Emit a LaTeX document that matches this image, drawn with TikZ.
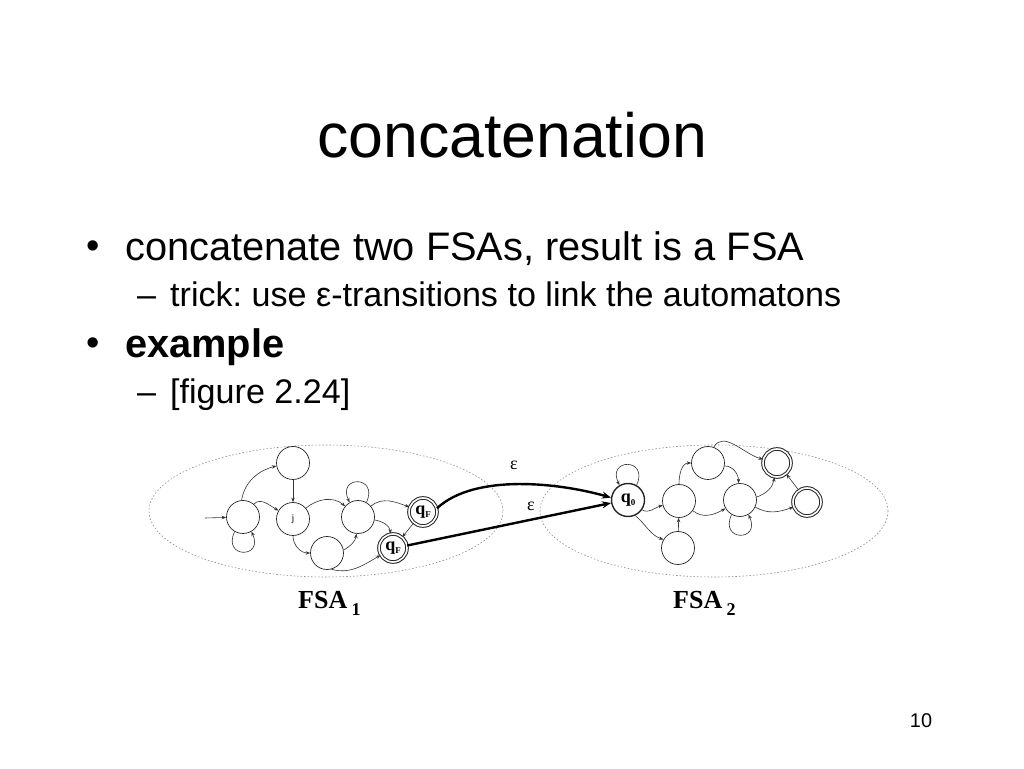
\documentclass[tikz,border=0pt]{standalone}
\usepackage{fontspec}
\setmainfont{Liberation Sans}
\newfontfamily\seriffont{Liberation Serif}
\usetikzlibrary{arrows.meta}
\frenchspacing
\begin{document}
\begin{tikzpicture}[x=1pt,y=1pt,
  st/.style={circle,draw=black!85,line width=0.7pt,minimum size=33pt,inner sep=0pt},
  fin/.style={circle,draw=black!85,line width=1pt,double,double distance=1.6pt,minimum size=28pt,inner sep=0pt},
  tr/.style={draw=black!80,line width=0.6pt,-{Stealth[length=4.5pt,width=3.5pt]}},
  epsarrow/.style={draw=black,line width=2.4pt,-{Stealth[length=9pt,width=7pt]}},
  region/.style={draw=black!45,line width=0.6pt,dash pattern=on 1.5pt off 2pt},
  txt/.style={anchor=base west,inner sep=0pt}]
\useasboundingbox (0,0) rectangle (1024,768);
\fill[white] (0,0) rectangle (1024,768);

% ---- text ----
\node[anchor=base,inner sep=0pt] (title) at (512,610) {\fontsize{62.6}{70}\selectfont concatenation};
\node[txt] (b1) at (86,509) {\fontsize{38}{44}\selectfont •};
\node[txt] (t1) at (125,507) {\fontsize{39.8}{44}\selectfont concatenate two FSAs, result is a FSA};
\node[txt] (d1) at (137,461) {\fontsize{34.1}{40}\selectfont –};
\node[txt] (t2) at (170,461) {\fontsize{34.1}{40}\selectfont trick: use ε-transitions to link the automatons};
\node[txt] (b2) at (86,412) {\fontsize{38}{44}\selectfont •};
\node[txt] (t3) at (125,410) {\fontsize{39.8}{44}\selectfont\bfseries example};
\node[txt] (d2) at (137,364) {\fontsize{34.1}{40}\selectfont –};
\node[txt] (t4) at (170,364) {\fontsize{34.1}{40}\selectfont [figure 2.24]};
\node[anchor=base,inner sep=0pt] (pg) at (921,41) {\fontsize{19.9}{22}\selectfont 10};

% ---- regions ----
\draw[region] (326,257) ellipse [x radius=177, y radius=66];
\draw[region] (714,257) ellipse [x radius=174, y radius=66];

% ---- FSA1 ----
\node[st] (A) at (243,251) {};
\node[st] (B) at (293,305) {};
\node[st] (J) at (293,249) {\seriffont\fontsize{10}{10}\selectfont j};
\node[st] (C) at (358,251) {};
\node[st] (D) at (327,215) {};
\node[fin] (F1) at (423,256) {\seriffont\bfseries\fontsize{18}{18}\selectfont q\raisebox{-3pt}{\fontsize{9}{9}\selectfont F}};
\node[fin] (F2) at (393,220) {\seriffont\bfseries\fontsize{18}{18}\selectfont q\raisebox{-3pt}{\fontsize{9}{9}\selectfont F}};
\coordinate (start) at (205,250);

\draw[tr] (start) -- (A);
\draw[tr] (A.-120) .. controls +(-115:30) and +(-65:30) .. (A.-60);
\draw[tr] (A.95) to[out=80,in=195] (B.190);
\draw[tr] (A.50) to[out=45,in=150] (J.150);
\draw[tr] (B) -- (J);
\draw[tr] (J.40) to[out=40,in=140] (C.140);
\draw[tr] (J.-90) to[out=-90,in=180] (D.180);
\draw[tr] (D.10) to[out=30,in=-100] (C.-95);
\draw[tr] (C.60) .. controls +(65:30) and +(115:30) .. (C.120);
\draw[tr] (C.40) to[out=40,in=160] (F1.160);
\draw[tr] (C.-10) to[out=-10,in=95] (F2.100);
\draw[tr] (F1.-130) -- (F2.50);
\draw[tr] (D.-75) to[out=-15,in=210] (F2.210);

% ---- FSA2 ----
\node[st,line width=1.4pt] (Q0) at (628,268) {\seriffont\bfseries\fontsize{18}{18}\selectfont q\raisebox{-3pt}{\fontsize{9}{9}\selectfont 0}};
\node[st] (E) at (679,267) {};
\node[st] (Fb) at (678,220) {};
\node[st] (G) at (708,305) {};
\node[st] (H) at (740,268) {};
\node[fin] (I) at (777,305) {};
\node[fin] (K) at (807,266) {};

\draw[tr] (Q0.60) .. controls +(65:30) and +(115:30) .. (Q0.120);
\draw[tr] (Q0.-35) to[out=-30,in=195] (E.195);
\draw[tr] (Q0.-65) to[out=-40,in=160] (Fb.150);
\draw[tr] (Fb) -- (E);
\draw[tr] (E.90) to[out=90,in=180] (G.180);
\draw[tr] (G.-10) to[out=0,in=90] (H.95);
\draw[tr] (E.-35) to[out=-40,in=-150] (H.-150);
\draw[tr] (G.70) to[out=60,in=165] (I.165);
\draw[tr] (H.10) to[out=20,in=-100] (I.-100);
\draw[tr] (H.-25) to[out=-30,in=-160] (K.-160);
\draw[tr] (K.125) -- (I.-50);
\draw[tr] (H.-120) .. controls +(-115:30) and +(-65:30) .. (H.-60);

% ---- epsilon links ----
\draw[epsarrow] (F1.15) .. controls (475,295) and (560,285) .. (Q0.172);
\draw[epsarrow] (F2.10) -- (Q0.190);
\node[font=\seriffont\fontsize{18}{18}\selectfont,inner sep=0pt] (e1) at (514,303) {ε};
\node[font=\seriffont\fontsize{18}{18}\selectfont,inner sep=0pt] (e2) at (531,262) {ε};

% ---- labels ----
\node[txt] (L1) at (298,159) {\seriffont\bfseries\fontsize{26}{26}\selectfont FSA\,\raisebox{-7pt}{\fontsize{18}{18}\selectfont 1}};
\node[txt] (L2) at (673,159) {\seriffont\bfseries\fontsize{26}{26}\selectfont FSA\,\raisebox{-7pt}{\fontsize{18}{18}\selectfont 2}};
\end{tikzpicture}
\end{document}
